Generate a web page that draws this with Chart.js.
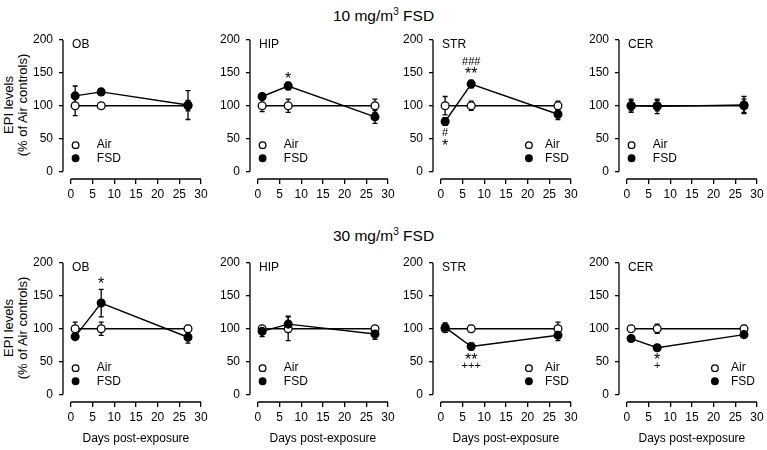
<!DOCTYPE html>
<html>
<head>
<meta charset="utf-8">
<script src="https://cdn.jsdelivr.net/npm/chart.js@4/dist/chart.umd.min.js"></script>
<style>
  body { margin: 0; background: #fff; font-family: "Liberation Sans", Arial, sans-serif; color: #000; }
  #wrap { position: relative; width: 767px; height: 450px; overflow: hidden; }
  #wrap canvas { position: absolute; }
  .ttl { position: absolute; left: 0; width: 767px; text-align: center; font-size: 15.5px; line-height: 18px; }
  .ttl sup { font-size: 10px; line-height: 0; vertical-align: 6px; }
  .ylab { position: absolute; font-size: 13px; line-height: 14px; text-align: center; white-space: nowrap;
          transform: translate(-50%, -50%) rotate(-90deg); }
  .xlab { position: absolute; font-size: 12px; line-height: 14px; white-space: nowrap; transform: translate(-50%, -50%); }
</style>
</head>
<body>
<div id="wrap">
  <div class="ttl" style="top:7px">10 mg/m<sup>3</sup> FSD</div>
  <div class="ttl" style="top:227px">30 mg/m<sup>3</sup> FSD</div>
  <div class="ylab" style="left:16px;top:105px">EPI levels<br>(% of Air controls)</div>
  <div class="ylab" style="left:16px;top:328px">EPI levels<br>(% of Air controls)</div>
</div>
<script>
// ---- data ----
const days = [1, 7, 27];
const regions = ["OB", "HIP", "STR", "CER"];
const xTicks = [0, 5, 10, 15, 20, 25, 30];
const yTicks = [0, 50, 100, 150, 200];

// 10 mg/m3, one row per region: day 1, 7, 27
const air10    = [[100, 100, 100], [100, 100, 100], [100, 100, 100], [100, 100, 100]];
const airErr10 = [[15, 2, 8], [9, 10, 10], [14, 7, 7], [8, 8, 10]];
const fsd10    = [[115, 121, 101], [114, 130, 83], [76, 133, 87], [100, 99, 101]];
const fsdErr10 = [[15, 4, 22], [4, 6, 10], [6, 6, 8], [10, 11, 13]];

// 30 mg/m3
const air30    = [[100, 100, 100], [100, 100, 100], [100, 100, 100], [100, 100, 100]];
const airErr30 = [[10, 10, 5], [4, 18, 4], [3, 5, 10], [2, 7, 5]];
const fsd30    = [[88, 139, 87], [96, 107, 92], [102, 73, 90], [85, 71, 91]];
const fsdErr30 = [[4, 21, 9], [8, 12, 8], [7, 5, 8], [3, 4, 3]];

// significance marks: [day, level, symbol]
const marks10 = [[], [[7, 145, "*"]], [[7, 167, "###"], [7, 153, "**"], [1, 58, "#"], [1, 43, "*"]], []];
const marks30 = [[[7, 172, "*"]], [], [[7, 57, "**"], [7, 44, "+++"]], [[7, 57, "*"], [7, 43, "+"]]];

// legend on the right side of the panel?
const legendRight10 = [false, false, true, false];
const legendRight30 = [false, false, true, true];

// ---- layout ----
const FONT = '"Liberation Sans", Arial, sans-serif';
Chart.defaults.font.family = FONT;
Chart.defaults.color = "#000";

const axisX = [63, 250, 433, 619];   // y-axis line of each column
const rowTop = [0, 223];
const YW = 45, CW = 138, PADR = 14, H = 215;

// axis lines that stop at 0 and at the last tick
const axisLines = {
  id: "axisLines",
  afterDraw(chart) {
    const { ctx, chartArea, scales: { x, y } } = chart;
    ctx.save();
    ctx.strokeStyle = "#000";
    ctx.lineWidth = 1.3;
    ctx.beginPath();
    ctx.moveTo(chartArea.left, y.getPixelForValue(0));
    ctx.lineTo(chartArea.left, y.getPixelForValue(200));
    ctx.moveTo(x.getPixelForValue(0), chartArea.bottom);
    ctx.lineTo(x.getPixelForValue(30), chartArea.bottom);
    ctx.stroke();
    ctx.restore();
  }
};

// error bars behind the points
const errorBars = {
  id: "errorBars",
  beforeDatasetsDraw(chart) {
    const { ctx, scales: { x, y } } = chart;
    ctx.save();
    ctx.strokeStyle = "#000";
    ctx.lineWidth = 1.3;
    chart.data.datasets.forEach(ds => {
      ds.data.forEach((p, i) => {
        const e = ds.err[i];
        const px = x.getPixelForValue(p.x);
        const t = y.getPixelForValue(p.y + e);
        const b = y.getPixelForValue(p.y - e);
        ctx.beginPath();
        ctx.moveTo(px, t); ctx.lineTo(px, b);
        ctx.moveTo(px - 2.5, t); ctx.lineTo(px + 2.5, t);
        ctx.moveTo(px - 2.5, b); ctx.lineTo(px + 2.5, b);
        ctx.stroke();
      });
    });
    ctx.restore();
  }
};

// region label, legend and significance marks
const extras = {
  id: "extras",
  afterDatasetsDraw(chart, args, opts) {
    const { ctx, scales: { x, y } } = chart;
    ctx.save();
    ctx.fillStyle = "#000";
    ctx.textBaseline = "middle";
    ctx.textAlign = "left";
    ctx.font = "12px " + FONT;
    ctx.fillText(opts.label, x.getPixelForValue(0.3), y.getPixelForValue(193));

    const mx = opts.right ? 20.3 : 1.1;
    const tx = opts.right ? 24 : 6;
    [["Air", 40, "#fff"], ["FSD", 20, "#000"]].forEach(([name, lv, fill]) => {
      ctx.beginPath();
      ctx.arc(x.getPixelForValue(mx), y.getPixelForValue(lv), 3.3, 0, Math.PI * 2);
      ctx.fillStyle = fill; ctx.fill();
      ctx.strokeStyle = "#000"; ctx.lineWidth = 1.3; ctx.stroke();
      ctx.fillStyle = "#000";
      ctx.fillText(name, x.getPixelForValue(tx), y.getPixelForValue(lv));
    });

    ctx.textAlign = "center";
    opts.marks.forEach(([d, lv, s]) => {
      const star = s.includes("*");
      const size = star ? 16 : 11;
      ctx.font = size + "px " + FONT;
      ctx.fillText(s, x.getPixelForValue(d), y.getPixelForValue(lv) + (star ? size * 0.22 : 0));
    });
    ctx.restore();
  }
};

function makePanel(row, col, air, airErr, fsd, fsdErr, marks, right) {
  const cv = document.createElement("canvas");
  const W = YW + CW + PADR;
  cv.width = W; cv.height = H;
  cv.style.left = (axisX[col] - YW) + "px";
  cv.style.top = rowTop[row] + "px";
  document.getElementById("wrap").appendChild(cv);

  const pts = vals => days.map((d, i) => ({ x: d, y: vals[i] }));
  new Chart(cv, {
    type: "line",
    data: {
      datasets: [
        { label: "FSD", data: pts(fsd), err: fsdErr, order: 0,
          borderColor: "#000", borderWidth: 1.4, pointRadius: 3.9,
          pointBackgroundColor: "#000", pointBorderColor: "#000", pointBorderWidth: 1.3 },
        { label: "Air", data: pts(air), err: airErr, order: 1,
          borderColor: "#000", borderWidth: 1.4, pointRadius: 3.9,
          pointBackgroundColor: "#fff", pointBorderColor: "#000", pointBorderWidth: 1.3 }
      ]
    },
    options: {
      responsive: false,
      animation: false,
      devicePixelRatio: 1,
      layout: { padding: { top: 36.7, right: PADR, left: 0, bottom: 0 } },
      plugins: {
        legend: { display: false },
        tooltip: { enabled: false },
        extras: { label: regions[col], marks: marks, right: right }
      },
      scales: {
        x: {
          type: "linear", min: -1.8, max: 30,
          afterBuildTicks: s => { s.ticks = xTicks.map(v => ({ value: v })); },
          afterFit: s => { s.height = H - 36.7 - 142.3; },
          border: { display: false },
          grid: { drawOnChartArea: false, drawTicks: true, tickLength: 5, color: "#000", lineWidth: 1.3 },
          ticks: { font: { size: 12 }, padding: 3, maxRotation: 0, autoSkip: false }
        },
        y: {
          min: -11.5, max: 205,
          afterBuildTicks: s => { s.ticks = yTicks.map(v => ({ value: v })); },
          afterFit: s => { s.width = YW; },
          border: { display: false },
          grid: { drawOnChartArea: false, drawTicks: true, tickLength: 4, color: "#000", lineWidth: 1.3 },
          ticks: { font: { size: 12 }, padding: 6 }
        }
      }
    },
    plugins: [axisLines, errorBars, extras]
  });

  if (row === 1) {
    const lab = document.createElement("div");
    lab.className = "xlab";
    lab.textContent = "Days post-exposure";
    lab.style.left = (axisX[col] + 7.8 + CW * 15 / 31.8) + "px";
    lab.style.top = "438px";
    document.getElementById("wrap").appendChild(lab);
  }
}

regions.forEach((r, c) => {
  makePanel(0, c, air10[c], airErr10[c], fsd10[c], fsdErr10[c], marks10[c], legendRight10[c]);
  makePanel(1, c, air30[c], airErr30[c], fsd30[c], fsdErr30[c], marks30[c], legendRight30[c]);
});
</script>
</body>
</html>
